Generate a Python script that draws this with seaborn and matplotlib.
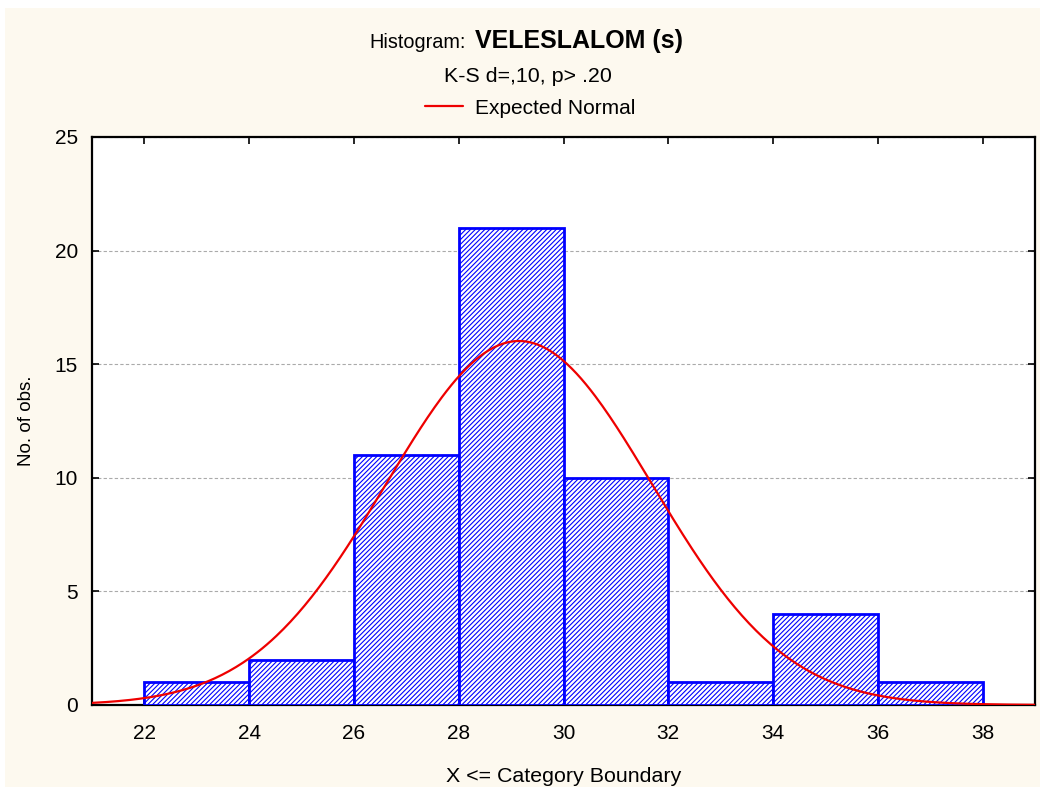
import numpy as np
import pandas as pd
import matplotlib
matplotlib.use("Agg")
import matplotlib.pyplot as plt
import seaborn as sns
from matplotlib.patches import Rectangle

# Data
bin_edges = [22, 24, 26, 28, 30, 32, 34, 36, 38]
counts = [1, 2, 11, 21, 10, 1, 4, 1]
x_ticks = [22, 24, 26, 28, 30, 32, 34, 36, 38]
y_ticks = [0, 5, 10, 15, 20, 25]
fit_mean = 29.15   # expected normal, estimated
fit_sd = 2.54

mids = [(a + b) / 2 for a, b in zip(bin_edges[:-1], bin_edges[1:])]
df = pd.DataFrame({"x": mids, "n": counts})

# expected normal curve scaled to counts
n_total = sum(counts)
width = bin_edges[1] - bin_edges[0]
xs = np.linspace(21, 39, 400)
ys = n_total * width / (fit_sd * np.sqrt(2 * np.pi)) * np.exp(-0.5 * ((xs - fit_mean) / fit_sd) ** 2)
curve = pd.DataFrame({"x": xs, "y": ys})

sns.set_style("ticks")
plt.rcParams["font.family"] = ["Liberation Sans", "DejaVu Sans"]
plt.rcParams["hatch.linewidth"] = 0.8
plt.rcParams["text.color"] = "black"
plt.rcParams["axes.labelcolor"] = "black"
plt.rcParams["xtick.color"] = "black"
plt.rcParams["ytick.color"] = "black"

fig = plt.figure(figsize=(10.4, 7.89), dpi=100)
fig.patch.set_facecolor("white")
fig.patches.append(Rectangle((5 / 1040, 2 / 789), 1 - 5 / 1040, 779 / 789,
                             transform=fig.transFigure, facecolor="#FDF9EF",
                             edgecolor="none", zorder=-10))

ax = fig.add_axes([92 / 1040, 84 / 789, 943 / 1040, 568 / 789])
ax.set_facecolor("white")

sns.histplot(data=df, x="x", weights="n", bins=bin_edges, ax=ax,
             color="white", edgecolor="#0000FF", linewidth=2, alpha=1,
             hatch="///////", zorder=3)
sns.lineplot(data=curve, x="x", y="y", ax=ax, color="#EE0000", linewidth=1.6,
             label="Expected Normal", zorder=4, legend=False)

ax.set_xlim(21, 39)
ax.set_ylim(0, 25)
ax.set_xticks(x_ticks)
ax.set_yticks(y_ticks)
ax.tick_params(direction="in", length=5, width=1.2, labelsize=15,
               top=True, right=True)
ax.tick_params(axis="x", pad=14)
ax.tick_params(axis="y", pad=10)
ax.yaxis.grid(True, color="#AAAAAA", linestyle=(0, (3, 2)), linewidth=0.8)
ax.set_axisbelow(True)
for s in ax.spines.values():
    s.set_linewidth(1.6)
    s.set_color("black")

ax.set_xlabel("X <= Category Boundary", fontsize=15.4, labelpad=17)
ax.set_ylabel("No. of obs.", fontsize=13.5, labelpad=14)

fig.text(466 / 1040, 1 - 48 / 789, "Histogram:", ha="right", va="baseline", fontsize=14.3)
fig.text(475 / 1040, 1 - 48 / 789, "VELESLALOM (s)", ha="left", va="baseline",
         fontsize=18, fontweight="bold")
fig.text(528 / 1040, 1 - 77 / 789, "K-S d=,10, p> .20", ha="center", va="center", fontsize=15.4)

h, l = ax.get_legend_handles_labels()
fig.legend(h, l, loc="center", bbox_to_anchor=(530 / 1040, 1 - 108 / 789),
           frameon=False, fontsize=15, handlelength=1.85, handletextpad=0.55)

fig.savefig("out.png", dpi=100)
